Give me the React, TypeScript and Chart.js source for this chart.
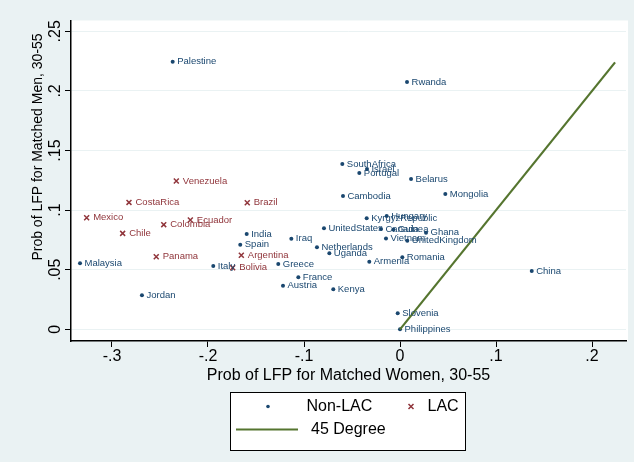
import React, { useEffect, useRef } from 'react';
import { Chart, registerables } from 'chart.js';
Chart.register(...registerables);

const nonLacNames = ['Palestine','Rwanda','SouthAfrica','Israel','Portugal','Belarus','Mongolia','Cambodia','KyrgyzRepublic','Hungary','UnitedStates','Canada','Guinea','Ghana','Vietnam','UnitedKingdom','Romania','Armenia','Uganda','Netherlands','Iraq','India','Spain','Greece','Italy','France','Austria','Kenya','Malaysia','Jordan','China','Slovenia','Philippines'];
const nonLacWomen = [-0.2368,0.0073,-0.0601,-0.0344,-0.0424,0.0115,0.0472,-0.0594,-0.0347,-0.0139,-0.0792,-0.0198,-0.007,0.0271,-0.0146,0.0076,0.0024,-0.032,-0.0736,-0.0865,-0.1132,-0.1597,-0.1664,-0.1268,-0.1945,-0.1059,-0.1219,-0.0695,-0.3333,-0.2688,0.1372,-0.0024,0.0];
const nonLacMen = [0.2245,0.2075,0.1387,0.1345,0.1311,0.1261,0.1135,0.1118,0.0931,0.0951,0.0847,0.0841,0.0837,0.081,0.0763,0.0743,0.0604,0.0567,0.0638,0.0688,0.076,0.08,0.071,0.0548,0.0531,0.0436,0.0366,0.0336,0.0554,0.0285,0.0489,0.0134,0.0];

const lacNames = ['Venezuela','CostaRica','Brazil','Mexico','Ecuador','Colombia','Chile','Panama','Argentina','Bolivia'];
const lacWomen = [-0.233,-0.2823,-0.1591,-0.3264,-0.2184,-0.2461,-0.2889,-0.2539,-0.1653,-0.1743];
const lacMen = [0.1244,0.1065,0.1062,0.0936,0.0917,0.0878,0.0805,0.0609,0.0621,0.0517];

const lineX = [0, 0.224];
const lineY = [0, 0.224];

const xTickValues = [-0.3, -0.2, -0.1, 0, 0.1, 0.2];
const xTickLabels = ['-.3', '-.2', '-.1', '0', '.1', '.2'];
const yTickValues = [0, 0.05, 0.1, 0.15, 0.2, 0.25];
const yTickLabels = ['0', '.05', '.1', '.15', '.2', '.25'];

const xTitle = 'Prob of LFP for Matched Women, 30-55';
const yTitle = 'Prob of LFP for Matched Men, 30-55';
const legendLabels = ['Non-LAC', 'LAC', '45 Degree'];

const NAVY = '#1a476f';
const MAROON = '#90353b';
const GREEN = '#55752f';
const BG = '#eaf2f3';
const FONT = '"Liberation Sans", Arial, sans-serif';

export default function App() {
  const ref = useRef<HTMLCanvasElement | null>(null);
  useEffect(() => {
    document.body.style.margin = '0';
    const canvas = ref.current;
    if (!canvas) return;

    const bgPlugin = {
      id: 'bgPlugin',
      beforeDraw(chart: any) {
        const { ctx, chartArea } = chart;
        ctx.save();
        ctx.fillStyle = BG;
        ctx.fillRect(0, 0, chart.width, chart.height);
        ctx.fillStyle = '#ffffff';
        ctx.fillRect(chartArea.left, chartArea.top, chartArea.right - chartArea.left + 2, chartArea.bottom - chartArea.top);
        ctx.restore();
      },
      afterDatasetsDraw(chart: any) {
        const { ctx } = chart;
        ctx.save();
        ctx.font = `9.5px ${FONT}`;
        ctx.textBaseline = 'middle';
        ctx.textAlign = 'left';
        const sets: [number, string[], string, number][] = [[0, nonLacNames, NAVY, 4.5], [1, lacNames, MAROON, 6.5]];
        sets.forEach(([idx, names, color, off]) => {
          const meta = chart.getDatasetMeta(idx);
          ctx.fillStyle = color;
          meta.data.forEach((pt: any, i: number) => {
            ctx.fillText(names[i], pt.x + off, pt.y);
          });
        });
        ctx.restore();
      },
      afterDraw(chart: any) {
        const { ctx } = chart;
        ctx.save();
        // y title
        ctx.fillStyle = '#000';
        ctx.font = `14px ${FONT}`;
        ctx.textAlign = 'center';
        ctx.textBaseline = 'middle';
        ctx.translate(38, 147);
        ctx.rotate(-Math.PI / 2);
        ctx.fillText(yTitle, 0, 0);
        ctx.restore();

        // legend
        ctx.save();
        const bx = 230.5, by = 392.5, bw = 235, bh = 58;
        ctx.fillStyle = '#fff';
        ctx.fillRect(bx, by, bw, bh);
        ctx.strokeStyle = '#000';
        ctx.lineWidth = 1;
        ctx.strokeRect(bx, by, bw, bh);
        ctx.font = `16px ${FONT}`;
        ctx.textBaseline = 'middle';
        ctx.textAlign = 'left';
        ctx.fillStyle = NAVY;
        ctx.beginPath();
        ctx.arc(268, 406.5, 1.8, 0, Math.PI * 2);
        ctx.fill();
        ctx.fillStyle = '#000';
        ctx.fillText(legendLabels[0], 306.5, 407);
        ctx.strokeStyle = MAROON;
        ctx.lineWidth = 1.5;
        ctx.beginPath();
        ctx.moveTo(408.5, 404); ctx.lineTo(413.5, 409);
        ctx.moveTo(413.5, 404); ctx.lineTo(408.5, 409);
        ctx.stroke();
        ctx.fillText(legendLabels[1], 427.5, 407);
        ctx.strokeStyle = GREEN;
        ctx.lineWidth = 2;
        ctx.beginPath();
        ctx.moveTo(236, 429.5); ctx.lineTo(298, 429.5);
        ctx.stroke();
        ctx.fillText(legendLabels[2], 311, 430);
        ctx.restore();
      },
    };

    const chart = new Chart(canvas, {
      type: 'scatter',
      data: {
        datasets: [
          {
            label: legendLabels[0],
            data: nonLacWomen.map((x, i) => ({ x, y: nonLacMen[i] })),
            pointStyle: 'circle',
            pointRadius: 2,
            backgroundColor: NAVY,
            borderColor: NAVY,
            borderWidth: 0,
            order: 2,
          },
          {
            label: legendLabels[1],
            data: lacWomen.map((x, i) => ({ x, y: lacMen[i] })),
            pointStyle: 'crossRot',
            pointRadius: 3.5,
            borderColor: MAROON,
            backgroundColor: MAROON,
            borderWidth: 1.5,
            order: 1,
          },
          {
            type: 'line',
            label: legendLabels[2],
            data: lineX.map((x, i) => ({ x, y: lineY[i] })),
            borderColor: GREEN,
            borderWidth: 2.2,
            pointRadius: 0,
            showLine: true,
            fill: false,
            order: 0,
          } as any,
        ],
      },
      options: {
        responsive: false,
        animation: false,
        devicePixelRatio: 1,
        events: [],
        layout: { padding: { left: 0, top: 20.5, right: 8, bottom: 77 } },
        plugins: { legend: { display: false }, tooltip: { enabled: false }, title: { display: false } },
        scales: {
          x: {
            type: 'linear',
            min: -0.3427,
            max: 0.2354,
            afterFit: (s: any) => { s.height = 44; },
            afterBuildTicks: (s: any) => { s.ticks = xTickValues.map((v) => ({ value: v })); },
            ticks: {
              callback: (_v: any, i: number) => xTickLabels[i],
              font: { family: FONT, size: 16 },
              color: '#000',
              padding: 0,
              maxRotation: 0,
              minRotation: 0,
              autoSkip: false,
            },
            grid: { display: true, drawOnChartArea: false, drawTicks: true, tickLength: 6, tickColor: '#000', tickWidth: 1 },
            border: { display: true, color: '#000', width: 1.5 },
            title: { display: true, text: xTitle, font: { family: FONT, size: 16 }, color: '#000', padding: { top: 0, bottom: 0 } },
          },
          y: {
            type: 'linear',
            min: -0.0098,
            max: 0.2591,
            afterFit: (s: any) => { s.width = 71; },
            afterBuildTicks: (s: any) => { s.ticks = yTickValues.map((v) => ({ value: v })); },
            ticks: {
              callback: (_v: any, i: number) => yTickLabels[i],
              font: { family: FONT, size: 16 },
              color: '#000',
              minRotation: 90,
              maxRotation: 90,
              crossAlign: 'center',
              padding: -2,
              autoSkip: false,
            },
            grid: { display: true, drawOnChartArea: true, color: BG, lineWidth: 1, drawTicks: true, tickLength: 6, tickColor: '#000', tickWidth: 1 },
            border: { display: true, color: '#000', width: 1.5 },
          },
        },
      },
      plugins: [bgPlugin],
    } as any);
    return () => chart.destroy();
  }, []);
  return (
    <div style={{ width: 634, height: 462 }}>
      <canvas ref={ref} width={634} height={462} style={{ width: 634, height: 462, display: 'block' }} />
    </div>
  );
}
